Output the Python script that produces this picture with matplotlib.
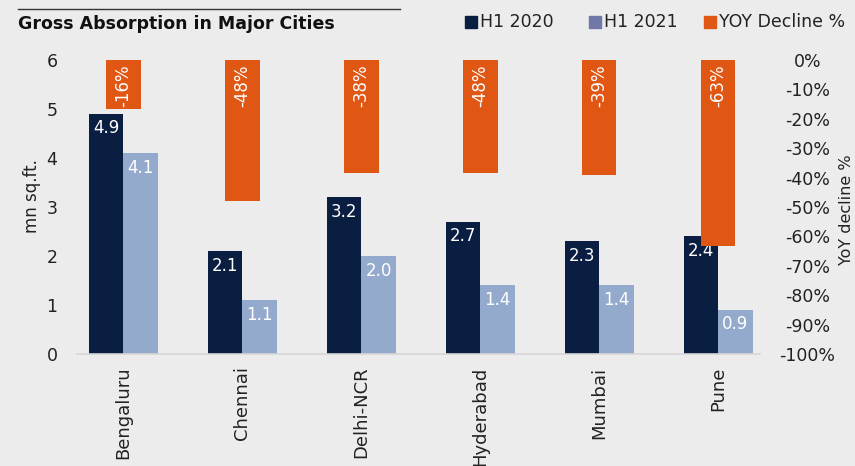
import matplotlib
matplotlib.use("Agg")
import matplotlib.pyplot as plt
from matplotlib.patches import Rectangle
from matplotlib.lines import Line2D
import numpy as np

cities = ["Bengaluru", "Chennai", "Delhi-NCR", "Hyderabad", "Mumbai", "Pune"]
h1_2020 = [4.9, 2.1, 3.2, 2.7, 2.3, 2.4]
h1_2021 = [4.1, 1.1, 2.0, 1.4, 1.4, 0.9]
yoy_decline = [-16.8, -48, -38.4, -38.4, -39, -63.4]
yoy_labels = ["-16%", "-48%", "-38%", "-48%", "-39%", "-63%"]
left_ticks = [0, 1, 2, 3, 4, 5, 6]
right_ticks = [0, -10, -20, -30, -40, -50, -60, -70, -80, -90, -100]

BG = "#ececec"
DARK = "#0a1e42"
LIGHT = "#94aacd"
LIGHT_LEG = "#6f78a6"
ORANGE = "#e05613"
TXT = "#222222"

plt.rcParams['font.family'] = ['DejaVu Sans']

W, H = 855, 466
fig = plt.figure(figsize=(W / 100, H / 100), dpi=100, facecolor=BG)

ax = fig.add_axes([77 / W, (H - 354) / H, (760 - 77) / W, (354 - 60) / H])
ax.set_facecolor(BG)
x = np.arange(len(cities))
bw = 0.288
b1 = ax.bar(x - bw / 2, h1_2020, bw, color=DARK, zorder=2)
b2 = ax.bar(x + bw / 2, h1_2021, bw, color=LIGHT, zorder=2)
ax.set_ylim(0, 6)
ax.set_xlim(-0.39, 5.35)
ax.set_yticks(left_ticks)
ax.set_yticklabels([str(t) for t in left_ticks], fontsize=12.5, color=TXT)
ax.tick_params(axis='y', length=0, pad=14)
ax.set_xticks(x)
ax.set_xticklabels(cities, rotation=90, fontsize=13, color=TXT, va='top')
ax.tick_params(axis='x', length=0, pad=9)
for s in ["top", "right", "left"]:
    ax.spines[s].set_visible(False)
ax.spines["bottom"].set_color("#d6d6d6")
ax.spines["bottom"].set_linewidth(1.2)

for bars, vals in ((b1, h1_2020), (b2, h1_2021)):
    for r, v in zip(bars, vals):
        ax.annotate(f"{v:.1f}", (r.get_x() + r.get_width() / 2, v),
                    xytext=(0, -4), textcoords="offset points",
                    ha="center", va="top", color="white", fontsize=12, zorder=5)

ax2 = ax.twinx()
ax2.set_ylim(-100, 0)
b3 = ax2.bar(x, yoy_decline, bw, color=ORANGE, zorder=3)
ax2.set_yticks(right_ticks)
ax2.set_yticklabels([f"{t}%" for t in right_ticks], fontsize=12.5, color=TXT, ha='center')
ax2.tick_params(axis='y', length=0, pad=34)
for s in ["top", "right", "left", "bottom"]:
    ax2.spines[s].set_visible(False)
for r, lab in zip(b3, yoy_labels):
    ax2.annotate(lab, (r.get_x() + r.get_width() / 2, 0),
                 xytext=(0, -3), textcoords="offset points",
                 ha="center", va="top", rotation=90, color="white", fontsize=12)

fig.text(32 / W, 1 - 196 / H, "mn sq.ft.", rotation=90, ha="center", va="center",
         fontsize=12, color=TXT)
fig.text(846 / W, 1 - 210 / H, "YoY decline %", rotation=90, ha="center", va="center",
         fontsize=11.5, color=TXT)

# title and rule
fig.add_artist(Line2D([18 / W, 400 / W], [1 - 9 / H, 1 - 9 / H], color="#333333", lw=1))
fig.text(18 / W, 1 - 24 / H, "Gross Absorption in Major Cities", ha="left", va="center",
         fontsize=12.5, fontweight="bold", color="#111111")

# legend
leg = [("H1 2020", DARK, 465), ("H1 2021", LIGHT_LEG, 589), ("YOY Decline %", ORANGE, 704)]
for lab, col, px in leg:
    fig.add_artist(Rectangle((px / W, 1 - 28 / H), 12 / W, 12 / H, color=col,
                             transform=fig.transFigure))
    fig.text((px + 15) / W, 1 - 22 / H, lab, ha="left", va="center", fontsize=12.5, color=TXT)

fig.savefig("out.png", dpi=100, facecolor=BG)
